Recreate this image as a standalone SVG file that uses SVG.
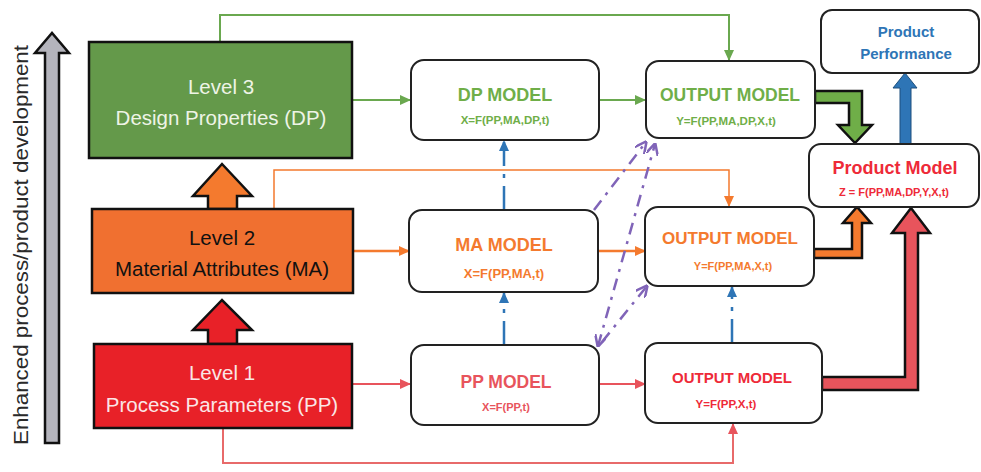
<svg xmlns="http://www.w3.org/2000/svg" width="981" height="472" viewBox="0 0 981 472">
<defs>
<style>
.lvl{stroke:#111;stroke-width:2.5}
.model{fill:#fff;stroke:#222;stroke-width:2}
.t{font-family:"Liberation Sans",Arial,sans-serif;text-anchor:middle}
.b{font-weight:bold}
.lt{font-size:20.5px}
.thick{stroke:#111;stroke-width:2.5;stroke-linejoin:miter}
.g{fill:#6fae48}.o{fill:#f47a2e}.r{fill:#e8545c}.rr{fill:#ee2a38}.bl{fill:#2e75b6}
</style>
<marker id="mg" markerUnits="userSpaceOnUse" markerWidth="11" markerHeight="10" refX="10" refY="5" orient="auto"><path d="M0,0 L11,5 L0,10 z" fill="#6aa84f"/></marker>
<marker id="mo" markerUnits="userSpaceOnUse" markerWidth="11" markerHeight="10" refX="10" refY="5" orient="auto"><path d="M0,0 L11,5 L0,10 z" fill="#f47a2e"/></marker>
<marker id="mr" markerUnits="userSpaceOnUse" markerWidth="11" markerHeight="10" refX="10" refY="5" orient="auto"><path d="M0,0 L11,5 L0,10 z" fill="#e8545c"/></marker>
<marker id="mb" markerUnits="userSpaceOnUse" markerWidth="11" markerHeight="10" refX="10" refY="5" orient="auto"><path d="M0,0 L11,5 L0,10 z" fill="#2e75b6"/></marker>
<marker id="mp" markerUnits="userSpaceOnUse" markerWidth="12" markerHeight="12" refX="11" refY="6" orient="auto-start-reverse"><path d="M0,0 L12,6 L0,12" fill="none" stroke="#8064b8" stroke-width="2.5"/></marker>
</defs>

<g id="axis">
<path d="M45,443 L45,53 L35,53 L52,33 L69,53 L59,53 L59,443 Z" fill="#b4b4bc" stroke="#111" stroke-width="2.5"/>
<text class="t" transform="translate(28,245) rotate(-90)" font-size="20" fill="#2a2a2a" textLength="400" lengthAdjust="spacingAndGlyphs">Enhanced process/product development</text>
</g>

<g id="connectors" fill="none">
<path d="M220,42 L220,15 L729,15 L729,60" stroke="#6aa84f" stroke-width="2" marker-end="url(#mg)"/>
<path d="M352,100 L410,100" stroke="#6aa84f" stroke-width="2" marker-end="url(#mg)"/>
<path d="M599,100 L645,100" stroke="#6aa84f" stroke-width="2" marker-end="url(#mg)"/>
<path d="M274,209 L274,170 L729,170 L729,206" stroke="#f47a2e" stroke-width="1.5" marker-end="url(#mo)"/>
<path d="M353,251 L409,251" stroke="#f47a2e" stroke-width="2.5" marker-end="url(#mo)"/>
<path d="M598,251 L645,251" stroke="#f47a2e" stroke-width="2.5" marker-end="url(#mo)"/>
<path d="M352,384 L410,384" stroke="#e8545c" stroke-width="2" marker-end="url(#mr)"/>
<path d="M599,384 L645,384" stroke="#e8545c" stroke-width="2" marker-end="url(#mr)"/>
<path d="M223,428 L223,463 L733,463 L733,424" stroke="#e86a6a" stroke-width="2" marker-end="url(#mr)"/>
<path d="M504,210 L504,141" stroke="#2e75b6" stroke-width="2.5" stroke-dasharray="24,8,4,8" marker-end="url(#mb)"/>
<path d="M504,345 L504,293" stroke="#2e75b6" stroke-width="2.5" stroke-dasharray="24,8,4,8" marker-end="url(#mb)"/>
<path d="M732,343 L732,287" stroke="#2e75b6" stroke-width="2.5" stroke-dasharray="24,8,4,8" marker-end="url(#mb)"/>
<path d="M594,210 L646,142" stroke="#8064b8" stroke-width="2.5" stroke-dasharray="12,7,3,7" marker-end="url(#mp)"/>
<path d="M598,346 L655,144" stroke="#8064b8" stroke-width="2.5" stroke-dasharray="12,7,3,7" marker-start="url(#mp)" marker-end="url(#mp)"/>
<path d="M602,342 L647,286" stroke="#8064b8" stroke-width="2.5" stroke-dasharray="12,7,3,7" marker-end="url(#mp)"/>
<path class="thick g" d="M815,91 L862,91 L862,125 L872,125 L855,143 L838,125 L849,125 L849,103 L815,103 Z"/>
<path class="thick o" d="M814,258 L862,258 L862,223 L871,223 L857,207 L843,223 L852,223 L852,249 L814,249 Z"/>
<path class="thick r" d="M822,390 L918,390 L918,233 L930,233 L911,208 L892,233 L905,233 L905,377 L822,377 Z"/>
<path d="M900,144 L900,88 L893,88 L905,73 L917,88 L911,88 L911,144 Z" fill="#2e75b6" stroke="#1d4f7c" stroke-width="1"/>
<path class="thick o" d="M208,209 L208,196 L193,196 L222,164 L252,196 L237,196 L237,209 Z"/>
<path class="thick" fill="#e82128" d="M208,344 L208,330 L193,330 L222,300 L252,330 L237,330 L237,344 Z"/>
</g>

<g id="level3">
<rect class="lvl" x="89" y="42" width="263" height="116" fill="#64994a"/>
<text class="t lt" x="221" y="94" fill="#eef4e6">Level 3</text>
<text class="t lt" x="221" y="125" fill="#eef4e6">Design Properties (DP)</text>
</g>
<g id="level2">
<rect class="lvl" x="92" y="209" width="261" height="84" fill="#f07030"/>
<text class="t lt" x="222" y="245" fill="#111">Level 2</text>
<text class="t lt" x="222" y="276" fill="#111">Material Attributes (MA)</text>
</g>
<g id="level1">
<rect class="lvl" x="94" y="344" width="258" height="84" fill="#e82128"/>
<text class="t lt" x="222" y="380" fill="#fbe6e6">Level 1</text>
<text class="t lt" x="222" y="412" fill="#fbe6e6">Process Parameters (PP)</text>
</g>

<g id="dp-model">
<rect class="model" x="411" y="60" width="188" height="80" rx="13"/>
<text class="t b g" x="505" y="101" font-size="18">DP MODEL</text>
<text class="t b g" x="505" y="124" font-size="11.5">X=F(PP,MA,DP,t)</text>
</g>
<g id="ma-model">
<rect class="model" x="409" y="210" width="189" height="82" rx="13"/>
<text class="t b o" x="504" y="251" font-size="18">MA MODEL</text>
<text class="t b o" x="504" y="278" font-size="13">X=F(PP,MA,t)</text>
</g>
<g id="pp-model">
<rect class="model" x="411" y="345" width="188" height="80" rx="13"/>
<text class="t b r" x="506" y="388" font-size="17.5">PP MODEL</text>
<text class="t b r" x="506" y="411" font-size="11">X=F(PP,t)</text>
</g>

<g id="output-dp">
<rect class="model" x="646" y="61" width="169" height="77" rx="13"/>
<text class="t b g" x="730" y="101" font-size="17.5">OUTPUT MODEL</text>
<text class="t b g" x="726" y="125" font-size="11.5">Y=F(PP,MA,DP,X,t)</text>
</g>
<g id="output-ma">
<rect class="model" x="645" y="207" width="169" height="79" rx="13"/>
<text class="t b o" x="730" y="244" font-size="17">OUTPUT MODEL</text>
<text class="t b o" x="733" y="270" font-size="11">Y=F(PP,MA,X,t)</text>
</g>
<g id="output-pp">
<rect class="model" x="645" y="343" width="177" height="80" rx="13"/>
<text class="t b rr" x="732" y="383" font-size="15">OUTPUT MODEL</text>
<text class="t b rr" x="726" y="408" font-size="11.5">Y=F(PP,X,t)</text>
</g>

<g id="product-model">
<rect class="model" x="809" y="144" width="170" height="63" rx="12"/>
<text class="t b rr" x="895" y="174" font-size="18">Product Model</text>
<text class="t b rr" x="894" y="196" font-size="11">Z = F(PP,MA,DP,Y,X,t)</text>
</g>
<g id="product-performance">
<rect class="model" x="821" y="10" width="158" height="63" rx="11"/>
<text class="t b bl" x="906" y="37" font-size="15">Product</text>
<text class="t b bl" x="906" y="59" font-size="15">Performance</text>
</g>
</svg>
